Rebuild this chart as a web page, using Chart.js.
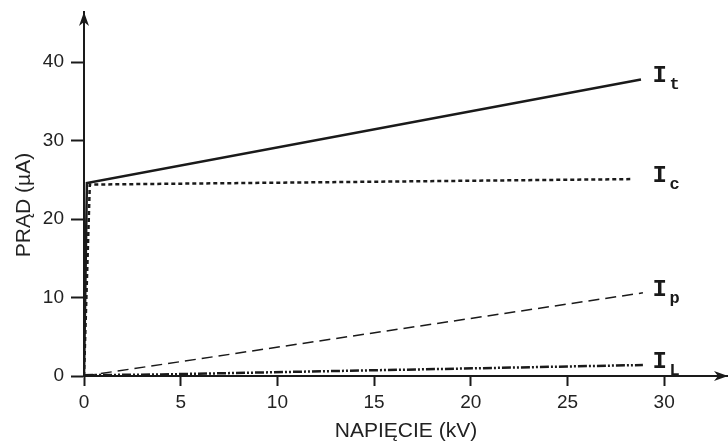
<!DOCTYPE html>
<html><head><meta charset="utf-8">
<script src="https://cdn.jsdelivr.net/npm/chart.js@4.4.0/dist/chart.umd.min.js"></script>
<style>html,body{margin:0;padding:0;background:#fff}#wrap{width:728px;height:441px}</style>
</head><body><div id="wrap"><canvas id="c" width="728" height="441"></canvas></div>
<script>
// Data (voltage kV, current µA)
const xIt = [0, 0.15, 28.8];
const yIt = [0, 24.6, 37.8];
const xIc = [0, 0.3, 28.4];
const yIc = [0, 24.4, 25.1];
const xIp = [0, 28.9];
const yIp = [0, 10.6];
const xIL = [0, 4, 28.9];
const yIL = [0.1, 0.2, 1.4];
const seriesSubs = ['t', 'c', 'p', 'L'];
const xTicks = [0, 5, 10, 15, 20, 25, 30];
const yTicks = [0, 10, 20, 30, 40];
const xTitle = 'NAPIĘCIE (kV)';
const yTitle = 'PRĄD (µA)';

const pts = (xs, ys) => xs.map((x, i) => ({x, y: ys[i]}));
const INK = '#1a1a1a';
const TXT = '#222';
const LABEL_X = 29.4;

const labelsPlugin = {
  id: 'labels',
  afterDatasetsDraw(chart) {
    const ctx = chart.ctx;
    const xs = chart.scales.x, ys = chart.scales.y;
    const a = chart.chartArea;
    ctx.save();
    ctx.fillStyle = INK;
    chart.data.datasets.forEach((ds, i) => {
      const last = ds.data[ds.data.length - 1];
      const px = xs.getPixelForValue(LABEL_X);
      const py = ys.getPixelForValue(last.y) + 3;
      ctx.font = 'bold 24px "Liberation Mono", monospace';
      ctx.textBaseline = 'alphabetic';
      ctx.textAlign = 'left';
      ctx.fillText('I', px, py);
      ctx.font = 'bold 17px "Liberation Mono", monospace';
      ctx.fillText(seriesSubs[i], px + 17, py + 7);
    });
    // y title
    ctx.save();
    ctx.fillStyle = TXT;
    ctx.font = '21px "Liberation Sans", Arial';
    ctx.textAlign = 'center';
    ctx.textBaseline = 'middle';
    ctx.translate(24, 205);
    ctx.rotate(-Math.PI / 2);
    ctx.fillText(yTitle, 0, 0);
    ctx.restore();
    // axis arrows
    const x0 = xs.getPixelForValue(0), y0 = ys.getPixelForValue(0);
    ctx.fillStyle = INK;
    ctx.beginPath();
    ctx.moveTo(x0, a.top);
    ctx.lineTo(x0 - 5, a.top + 14);
    ctx.lineTo(x0, a.top + 10);
    ctx.lineTo(x0 + 5, a.top + 14);
    ctx.closePath(); ctx.fill();
    ctx.beginPath();
    ctx.moveTo(a.right, y0);
    ctx.lineTo(a.right - 14, y0 - 5);
    ctx.lineTo(a.right - 10, y0);
    ctx.lineTo(a.right - 14, y0 + 5);
    ctx.closePath(); ctx.fill();
    ctx.restore();
  }
};

new Chart(document.getElementById('c'), {
  type: 'scatter',
  data: {
    datasets: [
      {data: pts(xIt, yIt), showLine: true, borderColor: INK, borderWidth: 2.5, pointRadius: 0, tension: 0},
      {data: pts(xIc, yIc), showLine: true, borderColor: INK, borderWidth: 2.5, borderDash: [4, 3], pointRadius: 0, tension: 0},
      {data: pts(xIp, yIp), showLine: true, borderColor: INK, borderWidth: 1.5, borderDash: [11, 6], pointRadius: 0, tension: 0},
      {data: pts(xIL, yIL), showLine: true, borderColor: INK, borderWidth: 2.5, borderDash: [9, 2, 2, 2, 2, 2], pointRadius: 0, tension: 0}
    ]
  },
  options: {
    responsive: false,
    animation: false,
    layout: {padding: {top: 12, right: 0, left: 0, bottom: 0}},
    plugins: {legend: {display: false}, tooltip: {enabled: false}},
    scales: {
      x: {
        type: 'linear', min: 0, max: 33.3,
        afterBuildTicks: s => { s.ticks = xTicks.map(v => ({value: v})); },
        afterFit: s => { s.height = 65; s.paddingLeft = 0; s.paddingRight = 0; },
        grid: {display: true, drawOnChartArea: false, drawTicks: true, tickLength: 10, tickWidth: 2, color: INK},
        border: {display: true, color: INK, width: 2},
        ticks: {color: TXT, font: {family: '"Liberation Sans", Arial', size: 19}, padding: 5, maxRotation: 0},
        title: {display: true, text: xTitle, color: TXT, font: {family: '"Liberation Sans", Arial', size: 21}, padding: {top: 0, bottom: -3}}
      },
      y: {
        type: 'linear', min: 0, max: 46.4,
        afterBuildTicks: s => { s.ticks = yTicks.map(v => ({value: v})); },
        afterFit: s => { s.width = 84; s.paddingTop = 0; s.paddingBottom = 0; },
        grid: {display: true, drawOnChartArea: false, drawTicks: true, tickLength: 13, tickWidth: 2, color: INK},
        border: {display: true, color: INK, width: 2},
        ticks: {color: TXT, font: {family: '"Liberation Sans", Arial', size: 19}, padding: 7},
        title: {display: false}
      }
    }
  },
  plugins: [labelsPlugin]
});
</script></body></html>
